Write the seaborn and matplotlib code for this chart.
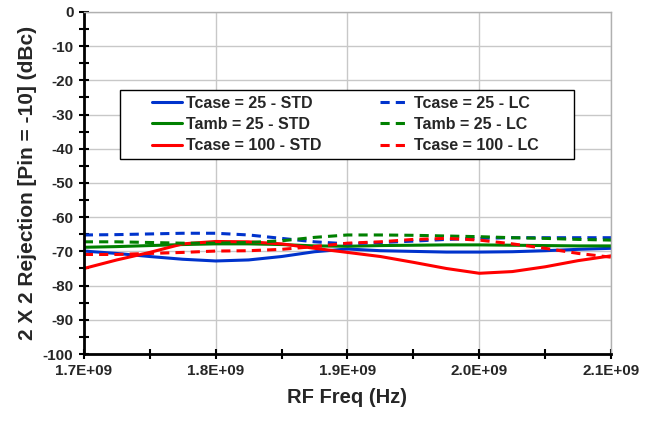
import numpy as np
import pandas as pd
import matplotlib
matplotlib.use("Agg")
import matplotlib.pyplot as plt
import seaborn as sns
from matplotlib.ticker import MultipleLocator, FuncFormatter
from matplotlib.patches import Rectangle

# Datos (frecuencia en Hz, rechazo en dBc)
freq = [1.700e9, 1.725e9, 1.750e9, 1.775e9, 1.800e9, 1.825e9, 1.850e9, 1.875e9, 1.900e9,
        1.925e9, 1.950e9, 1.975e9, 2.000e9, 2.025e9, 2.050e9, 2.075e9, 2.100e9]

tcase25_std = [-69.9, -70.6, -71.5, -72.3, -72.8, -72.5, -71.5, -70.1, -69.3,
               -69.8, -70.0, -70.2, -70.2, -70.1, -69.8, -69.4, -69.1]
tamb25_std = [-68.8, -68.6, -68.3, -68.0, -67.8, -67.8, -68.0, -68.4, -68.5,
              -68.3, -68.2, -68.1, -68.1, -68.2, -68.3, -68.4, -68.4]
tcase100_std = [-75.0, -72.5, -70.3, -67.8, -67.1, -67.2, -67.8, -69.1, -70.3,
                -71.5, -73.2, -75.0, -76.4, -75.9, -74.5, -72.7, -71.3]
tcase25_lc = [-65.2, -65.1, -64.9, -64.7, -64.7, -65.2, -66.2, -67.2, -67.8,
              -67.4, -67.0, -66.5, -66.2, -66.0, -66.0, -66.0, -66.0]
tamb25_lc = [-67.2, -67.2, -67.4, -67.6, -67.6, -67.4, -66.9, -65.9, -65.2,
             -65.2, -65.3, -65.5, -65.7, -66.0, -66.2, -66.5, -66.7]
tcase100_lc = [-70.9, -70.9, -70.6, -70.3, -69.9, -69.8, -69.4, -68.6, -67.6,
               -67.2, -66.5, -66.2, -66.7, -67.8, -69.1, -70.6, -71.7]

labels_std = ["Tcase = 25 - STD", "Tamb = 25 - STD", "Tcase = 100 - STD"]
labels_lc = ["Tcase = 25 - LC", "Tamb = 25 - LC", "Tcase = 100 - LC"]
colors = ["#0033cc", "#008000", "#ff0000"]

sns.set_style("white")
plt.rcParams["font.family"] = ["Liberation Sans", "DejaVu Sans"]
plt.rcParams["font.weight"] = "bold"
plt.rcParams["axes.unicode_minus"] = False

fig = plt.figure(figsize=(6.6, 4.25), dpi=100)
ax = fig.add_axes([0.127, 0.167, 0.799, 0.805])

for serie, lab, col in zip([tcase25_std, tamb25_std, tcase100_std], labels_std, colors):
    sns.lineplot(x=freq, y=serie, ax=ax, color=col, linewidth=2.2, label=lab)
for serie, lab, col in zip([tcase25_lc, tamb25_lc, tcase100_lc], labels_lc, colors):
    sns.lineplot(x=freq, y=serie, ax=ax, color=col, linewidth=2.2, label=lab)
# estilo discontinuo para las series LC
for line in ax.get_lines()[3:6]:
    line.set_dashes((3, 2))

ax.set_xlim(1.7e9, 2.1e9)
ax.set_ylim(-100, 0)
ax.xaxis.set_major_locator(MultipleLocator(0.1e9))
ax.xaxis.set_minor_locator(MultipleLocator(0.05e9))
ax.yaxis.set_major_locator(MultipleLocator(10))
ax.yaxis.set_minor_locator(MultipleLocator(5))
ax.xaxis.set_major_formatter(FuncFormatter(lambda v, p: f"{v:.1E}"))

ax.grid(True, which="major", color="#c8c8c8", linewidth=1.0)
ax.set_axisbelow(True)
for s in ["top", "right"]:
    ax.spines[s].set_color("#b0b0b0")
    ax.spines[s].set_linewidth(1.0)
for s in ["left", "bottom"]:
    ax.spines[s].set_color("black")
    ax.spines[s].set_linewidth(2.0)

ax.tick_params(which="both", direction="inout", length=7, width=1.5, color="black",
               left=True, bottom=True, labelsize=11, pad=4)
for t in ax.get_xticklabels() + ax.get_yticklabels():
    t.set_fontweight("bold")

ax.set_xlabel("RF Freq (Hz)", fontsize=14.5, fontweight="bold", labelpad=7)
ax.set_ylabel("2 X 2 Rejection [Pin = -10] (dBc)", fontsize=15, fontweight="bold", labelpad=4)

# caja de la leyenda dibujada aparte
box = Rectangle((0.068, 0.570), 0.862, 0.202, transform=ax.transAxes, facecolor="white",
                edgecolor="black", linewidth=1.0, zorder=5)
ax.add_patch(box)

h, l = ax.get_legend_handles_labels()
leg = ax.legend(h, l, ncol=2, loc="center", bbox_to_anchor=(0.496, 0.671),
                frameon=False, prop={"weight": "bold", "size": 11.5},
                handlelength=1.9, handletextpad=0.25, borderaxespad=0,
                labelspacing=0.4, columnspacing=3.65)
leg.set_zorder(6)

fig.savefig("out.png", dpi=100)
